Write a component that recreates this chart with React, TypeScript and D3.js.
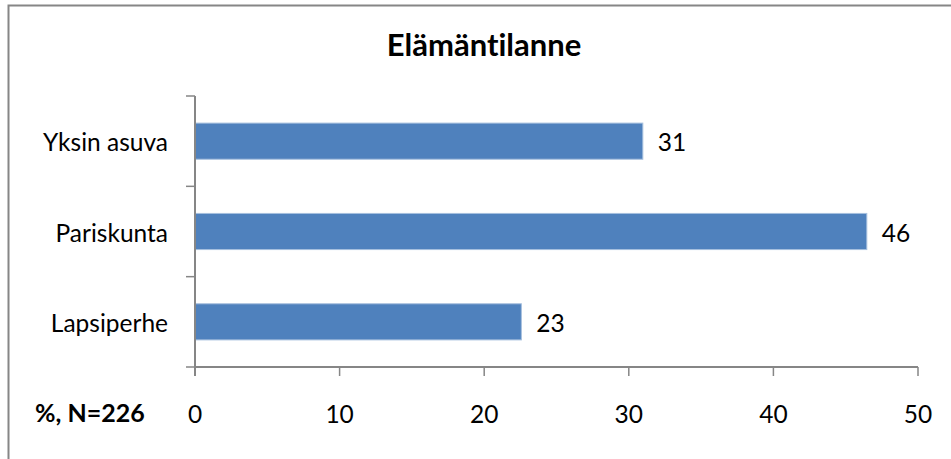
import * as d3 from "d3"

const categories = ["Yksin asuva", "Pariskunta", "Lapsiperhe"]
const values = [30.97, 46.46, 22.57]
const xTicks = [0, 10, 20, 30, 40, 50]
const title = "Elämäntilanne"
const footLabel = "%, N=226"

const W = 951
const H = 459
const PLOT = { left: 195, right: 918, top: 96, bottom: 367 }
const FONT = "Lato, 'Open Sans', sans-serif"
const AXIS = "#868686"

export default function App() {
  const x = d3.scaleLinear().domain([0, 50]).range([PLOT.left, PLOT.right])
  const y = d3
    .scaleBand()
    .domain(categories)
    .range([PLOT.top, PLOT.bottom])
    .paddingInner(0.6)
    .paddingOuter(0.3)

  const fmt = d3.format(".0f")
  const step = y.step()
  const bounds = d3.range(categories.length + 1).map((i) => PLOT.top + i * step)

  return (
    <div style={{ position: "fixed", left: 0, top: 0 }}>
      <svg
        width={W}
        height={H}
        style={{ display: "block", fontVariantLigatures: "none" }}
      >
        <rect width={W} height={H} fill="#fff" />
        <rect
          x={8.5}
          y={5.5}
          width={960}
          height={480}
          fill="none"
          stroke={AXIS}
          strokeWidth={2}
        />

        <text
          x={484}
          y={56}
          textAnchor="middle"
          fontFamily={FONT}
          fontWeight="bold"
          fontSize={31}
          fill="#000"
        >
          {title}
        </text>

        {categories.map((c, i) => {
          const by = y(c)!
          const cy = by + y.bandwidth() / 2
          return (
            <g key={c}>
              <rect
                x={x(0)}
                y={by}
                width={x(values[i]) - x(0)}
                height={y.bandwidth()}
                fill="#4F81BD"
                stroke="#A7C0DE"
                strokeWidth={1}
              />
              <text
                x={168}
                y={cy + 10}
                textAnchor="end"
                fontFamily={FONT}
                fontSize={24.5}
                fill="#000"
              >
                {c}
              </text>
              <text
                x={x(values[i]) + 15}
                y={cy + 10}
                fontFamily={FONT}
                fontSize={24.5}
                fill="#000"
              >
                {fmt(values[i])}
              </text>
            </g>
          )
        })}

        {/* y axis */}
        <line x1={PLOT.left} x2={PLOT.left} y1={PLOT.top} y2={PLOT.bottom + 9} stroke={AXIS} strokeWidth={2} />
        {bounds.map((b, i) => (
          <line key={i} x1={PLOT.left - 9} x2={PLOT.left} y1={b} y2={b} stroke={AXIS} strokeWidth={1.5} />
        ))}

        {/* x axis */}
        <line x1={PLOT.left} x2={x(50)} y1={PLOT.bottom} y2={PLOT.bottom} stroke={AXIS} strokeWidth={2} />
        {xTicks.map((t) => (
          <g key={t}>
            <line x1={x(t)} x2={x(t)} y1={PLOT.bottom} y2={PLOT.bottom + 9} stroke={AXIS} strokeWidth={1.5} />
            <text
              x={x(t)}
              y={423}
              textAnchor="middle"
              fontFamily={FONT}
              fontSize={24.5}
              fill="#000"
            >
              {t}
            </text>
          </g>
        ))}

        <text x={35} y={422} fontFamily={FONT} fontWeight="bold" fontSize={25} fill="#000">
          {footLabel}
        </text>
      </svg>
    </div>
  )
}
